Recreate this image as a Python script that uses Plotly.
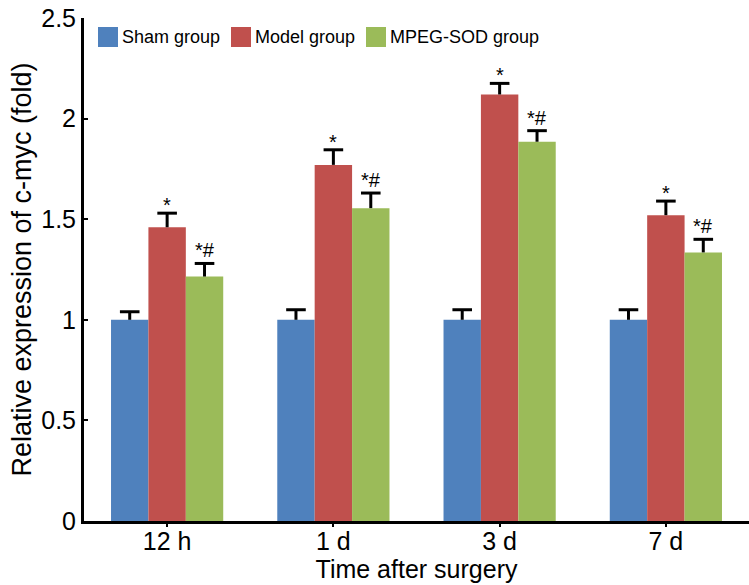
import plotly.graph_objects as go

categories = ["12 h", "1 d", "3 d", "7 d"]
groups = ["Sham group", "Model group", "MPEG-SOD group"]
colors = ["#4F81BD", "#C0504D", "#9BBB59"]
sham = [1.0, 1.0, 1.0, 1.0]
sham_err = [0.04, 0.05, 0.05, 0.05]
model = [1.46, 1.77, 2.12, 1.52]
model_err = [0.07, 0.075, 0.055, 0.07]
mpeg = [1.215, 1.555, 1.885, 1.335]
mpeg_err = [0.065, 0.075, 0.055, 0.065]
model_marks = ["*", "*", "*", "*"]
mpeg_marks = ["*#", "*#", "*#", "*#"]

FONT = "Liberation Sans, Arial, sans-serif"
BARGAP = 0.325
bw = (1 - BARGAP) / 3
xs = list(range(len(categories)))

values = [sham, model, mpeg]
errors = [sham_err, model_err, mpeg_err]

fig = go.Figure()
for k in range(3):
    fig.add_bar(name=groups[k], x=xs, y=values[k], marker_color=colors[k],
                marker_line_width=0, showlegend=False,
                error_y=dict(type="data", array=errors[k], arrayminus=[0] * 4,
                             symmetric=False, color="black", thickness=3, width=0))
# error bar caps (top only)
for k in range(3):
    off = (k - 1) * bw
    fig.add_scatter(x=[i + off for i in xs],
                    y=[v + e for v, e in zip(values[k], errors[k])],
                    mode="markers", showlegend=False, hoverinfo="skip",
                    marker=dict(symbol="line-ew", size=14, color="black",
                                line=dict(width=3, color="black")))

annotations = []
for i in xs:
    annotations.append(dict(x=i, y=model[i] + model_err[i], text=model_marks[i],
                            showarrow=False, yanchor="bottom", yshift=-5,
                            font=dict(family=FONT, size=20, color="black")))
    annotations.append(dict(x=i + bw, y=mpeg[i] + mpeg_err[i], text=mpeg_marks[i],
                            showarrow=False, yanchor="bottom", yshift=0,
                            font=dict(family=FONT, size=20, color="black")))

# legend (drawn in paper coordinates)
shapes = []
leg_x = [98, 231, 366]
for k in range(3):
    x0 = (leg_x[k] - 84) / 665
    shapes.append(dict(type="rect", xref="paper", yref="paper",
                       x0=x0, x1=x0 + 20 / 665, y0=1 - (47 - 18) / 503, y1=1 - (27 - 18) / 503,
                       fillcolor=colors[k], line=dict(width=0)))
    annotations.append(dict(xref="paper", yref="paper", x=x0 + 22 / 665,
                            y=1 - (37 - 18) / 503, xanchor="left", yanchor="middle",
                            text=groups[k], showarrow=False,
                            font=dict(family=FONT, size=18, color="black")))

fig.update_layout(
    width=749, height=585,
    margin=dict(l=84, r=0, t=18, b=64),
    paper_bgcolor="white", plot_bgcolor="white",
    barmode="group", bargap=BARGAP, bargroupgap=0,
    font=dict(family=FONT, color="black"),
    showlegend=False,
    annotations=annotations, shapes=shapes,
    xaxis=dict(range=[-0.5, 3.5], tickvals=xs, ticktext=categories,
               showline=True, linecolor="black", linewidth=3, ticks="outside",
               ticklen=3, tickwidth=2, tickcolor="black", showgrid=False,
               zeroline=False, automargin=False, ticklabelstandoff=-7,
               tickfont=dict(family=FONT, size=25, color="black"),
               title=dict(text="Time after surgery", standoff=2,
                          font=dict(family=FONT, size=25, color="black"))),
    yaxis=dict(range=[0, 2.5], tickvals=[0, 0.5, 1, 1.5, 2, 2.5],
               ticktext=["0", "0.5", "1", "1.5", "2", "2.5"],
               showline=True, linecolor="black", linewidth=3, ticks="inside",
               ticklen=4, tickwidth=2, tickcolor="black", showgrid=False,
               zeroline=False, automargin=False,
               tickfont=dict(family=FONT, size=25, color="black"),
               title=dict(text="Relative expression of c-myc (fold)", standoff=2,
                          font=dict(family=FONT, size=27, color="black"))),
)

fig.write_html("out.html", config={"displayModeBar": False},
               post_script="document.body.style.margin='0';document.body.style.overflow='hidden';")
